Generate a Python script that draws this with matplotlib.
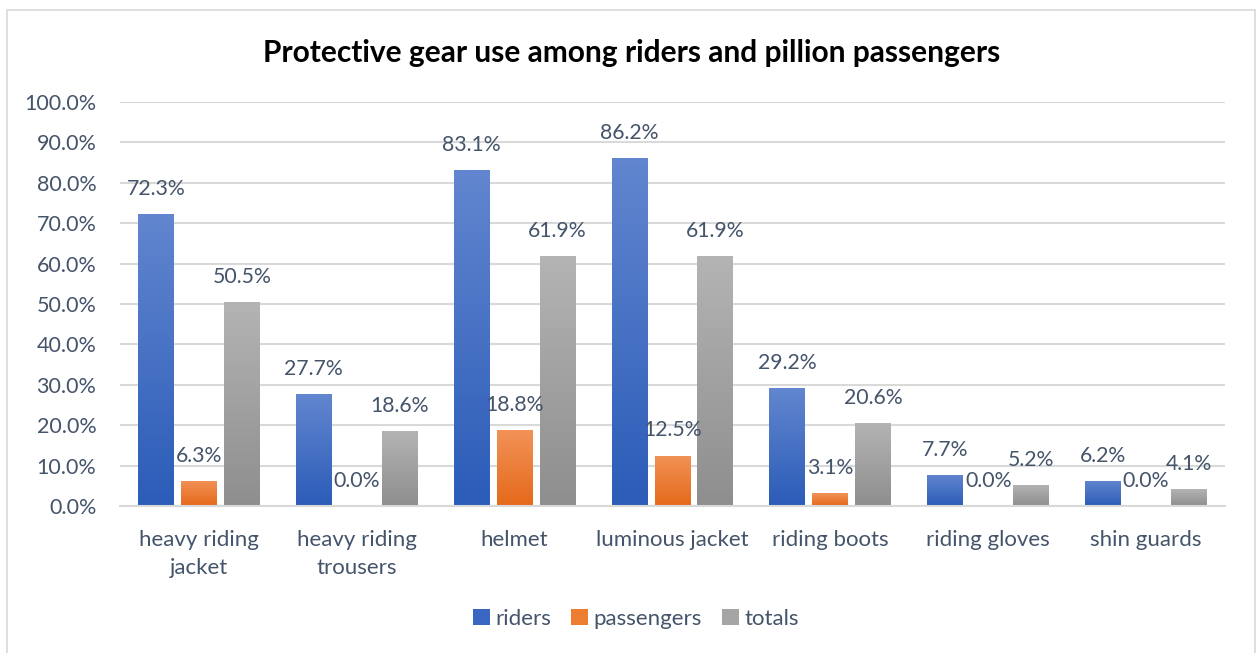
import numpy as np
import matplotlib
matplotlib.use("Agg")
import matplotlib.pyplot as plt
from matplotlib.colors import LinearSegmentedColormap
from matplotlib.patches import Rectangle, Patch

categories = ["heavy riding\njacket", "heavy riding\ntrousers", "helmet",
              "luminous jacket", "riding boots", "riding gloves", "shin guards"]
riders = [72.3, 27.7, 83.1, 86.2, 29.2, 7.7, 6.2]
passengers = [6.3, 0.0, 18.8, 12.5, 3.1, 0.0, 0.0]
totals = [50.5, 18.6, 61.9, 61.9, 20.6, 5.2, 4.1]
series_names = ["riders", "passengers", "totals"]
y_ticks = list(range(0, 101, 10))

plt.rcParams['font.family'] = ['Lato', 'DejaVu Sans']

TEXT = "#44546A"
GRID = "#D9D9D9"
# (bottom colour, top colour) for each series gradient
gradients = [("#2B5CB8", "#6286CF"),
             ("#E5691A", "#F29257"),
             ("#8E8E8E", "#B4B4B4")]
solid = ["#3A67C2", "#ED7D31", "#A5A5A5"]

W, H = 1257, 653
fig = plt.figure(figsize=(W / 100, H / 100), dpi=100)
ax = fig.add_axes([120 / W, 1 - 506 / H, (1225 - 120) / W, (506 - 102) / H])

x = np.arange(len(categories))
bar_w = 0.228
step = 0.272
data = [riders, passengers, totals]
grad = np.linspace(0, 1, 256).reshape(-1, 1)

for i, (vals, (c0, c1)) in enumerate(zip(data, gradients)):
    cmap = LinearSegmentedColormap.from_list(f"g{i}", [c0, c1])
    xs = x + (i - 1) * step
    bars = ax.bar(xs, vals, width=bar_w, color="none", edgecolor="none", zorder=2)
    for b, v in zip(bars, vals):
        if v > 0:
            x0 = b.get_x()
            im = ax.imshow(grad, extent=[x0, x0 + bar_w, 0, v], origin="lower",
                           aspect="auto", cmap=cmap, zorder=2, interpolation="bilinear")
            im.set_clip_path(b)
    for xi, v in zip(xs, vals):
        ax.annotate(f"{v:.1f}%", (xi, v), xytext=(0, 18), textcoords="offset points",
                    ha="center", va="center", color=TEXT, fontsize=15.3, zorder=3)

ax.set_xlim(-0.5, len(categories) - 0.5)
ax.set_ylim(0, 100)
ax.set_yticks(y_ticks)
ax.set_yticklabels([f"{t:.1f}%" for t in y_ticks])
ax.set_xticks(x)
ax.set_xticklabels(categories, linespacing=1.5)
ax.tick_params(axis="y", length=0, labelsize=15.5, labelcolor=TEXT, pad=17)
ax.tick_params(axis="x", length=0, labelsize=16, labelcolor=TEXT, pad=17)
ax.yaxis.grid(True, color=GRID, lw=1.5, zorder=0)
ax.set_axisbelow(True)
for s in ["top", "right", "left"]:
    ax.spines[s].set_visible(False)
ax.spines["bottom"].set_color(GRID)
ax.spines["bottom"].set_linewidth(1.5)

fig.text(632 / W, 1 - 53 / H, "Protective gear use among riders and pillion passengers",
         ha="center", va="center", fontsize=21.5, fontweight="bold", color="black")

handles = [Patch(facecolor=c, edgecolor="none") for c in solid]
fig.legend(handles, series_names, loc="center", bbox_to_anchor=(636 / W, 1 - 619 / H),
           ncol=3, frameon=False, handlelength=0.75, handleheight=0.75,
           columnspacing=0.9, handletextpad=0.25, fontsize=16, labelcolor=TEXT)

fig.patches.append(Rectangle((7 / W, -0.1), (1255 - 7) / W, 1 - 10 / H + 0.1,
                             transform=fig.transFigure, fill=False, ec=GRID, lw=1.2))

fig.savefig("out.png", dpi=100)
